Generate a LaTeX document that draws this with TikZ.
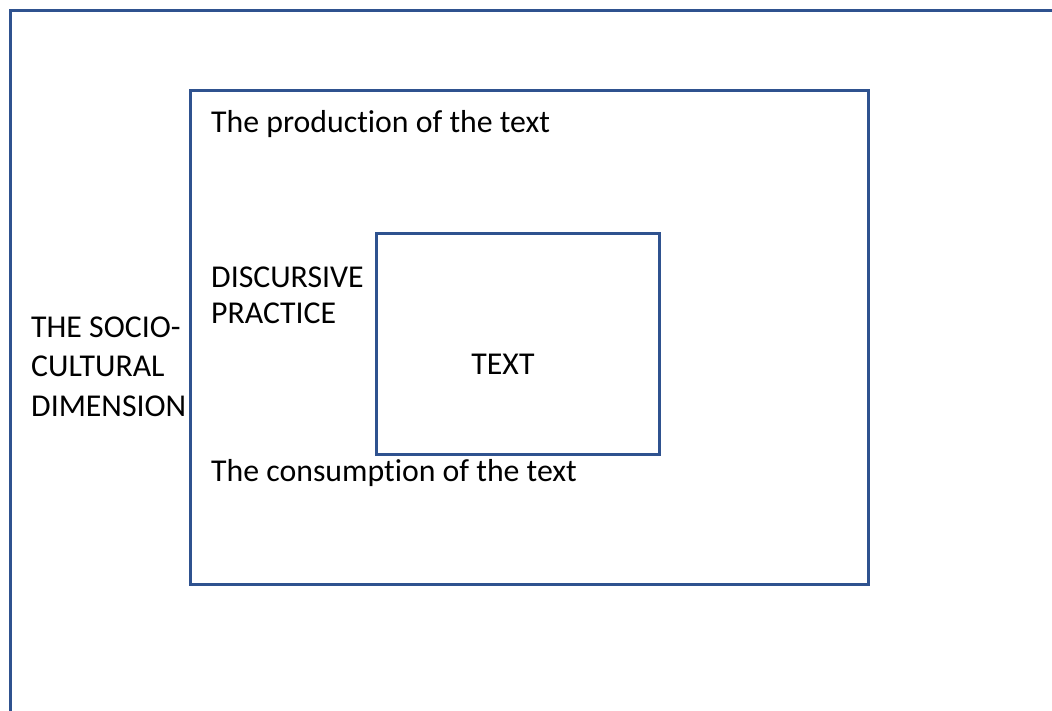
\documentclass[tikz,border=0pt]{standalone}
\usepackage{fontspec}
\setmainfont{Carlito}[RawFeature=-liga]
\usetikzlibrary{positioning}
\definecolor{boxblue}{HTML}{2F528F}

\begin{document}
\begin{tikzpicture}[x=1pt,y=-1pt,
    frame/.style={draw=boxblue,line width=3pt,inner sep=0pt},
    lbl/.style={anchor=base west,inner sep=0pt,align=left,font=\fontsize{31.8}{39.5}\selectfont}]
                \useasboundingbox (0,0) rectangle (1052,710);
                \clip (0,0) rectangle (1052,710);
                \draw[frame] (10,10) rectangle (1070,730);
                \node[frame,minimum width=678pt,minimum height=494pt,anchor=north west] (mid) at (188.5,88.5) {};
                \node[frame,minimum width=283pt,minimum height=221pt,anchor=north west] (inner) at (374.5,231.5) {};
                \node[lbl] (prod) at (211,132) {The production of the text};
                \node[lbl,font=\fontsize{31.8}{36}\selectfont] (disc) at (211,323) {DISCURSIVE\\PRACTICE};
                \node[lbl] (socio) at (31,416) {THE SOCIO-\\CULTURAL\\DIMENSION};
                \node[lbl,anchor=base] (text) at (503,374) {TEXT};
                \node[lbl] (cons) at (211,481) {The consumption of the text};
            \end{tikzpicture}
\end{document}
